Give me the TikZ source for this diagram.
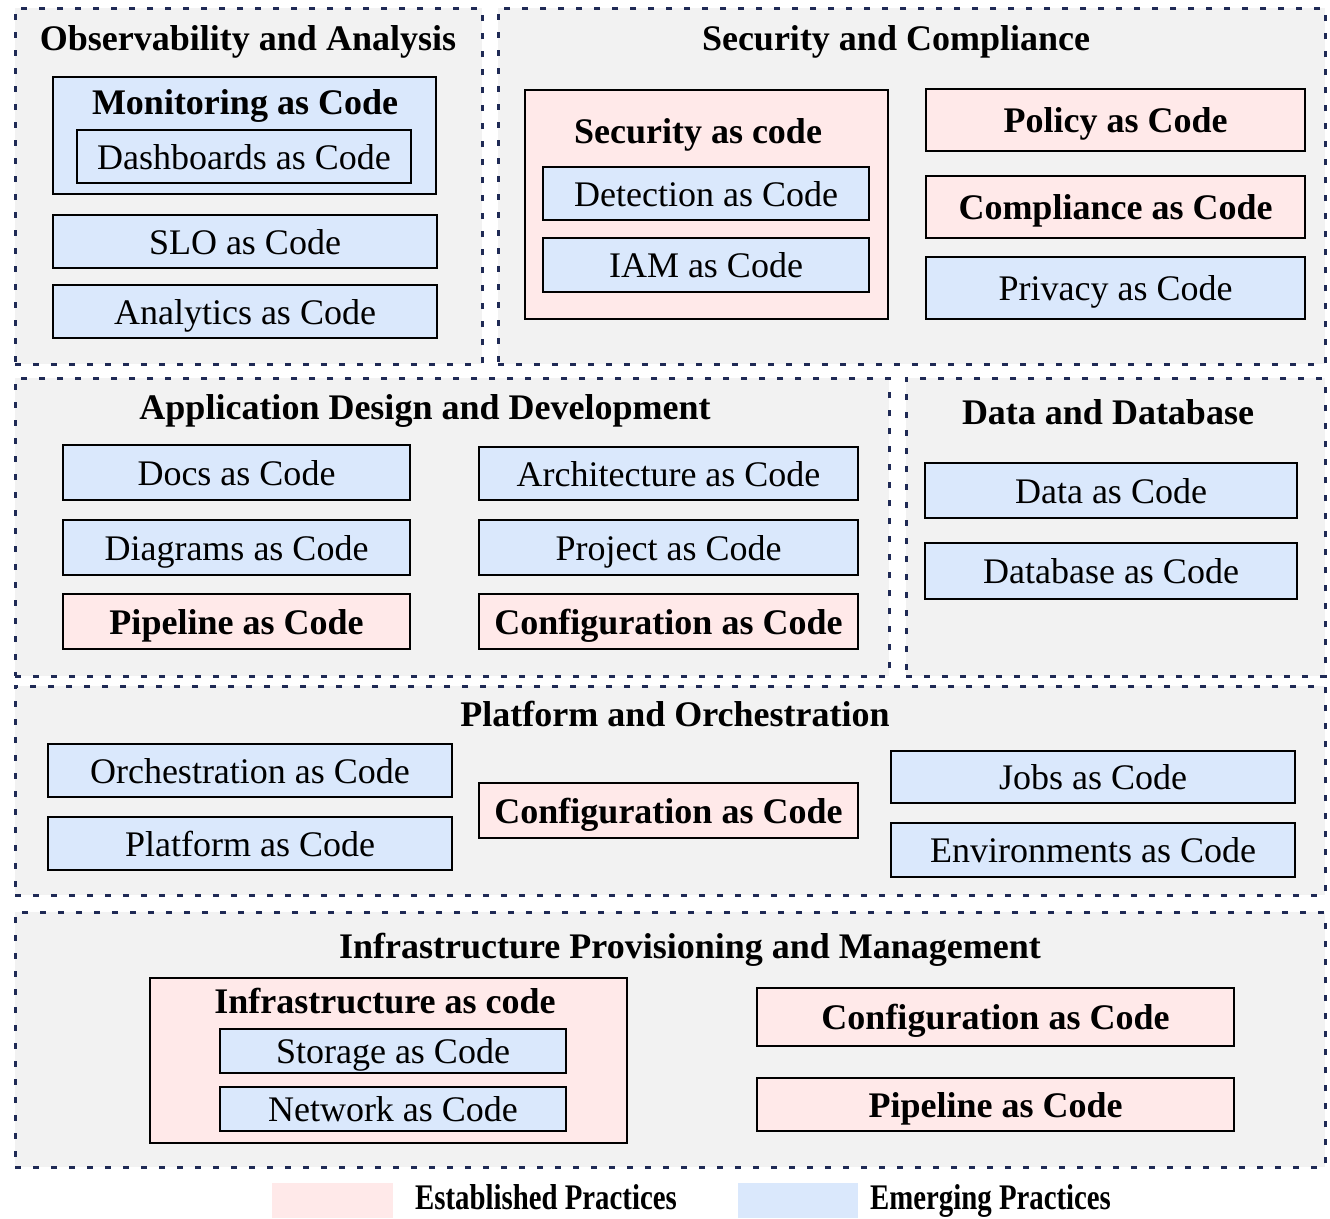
\documentclass[tikz,border=0pt]{standalone}
\usepackage{fontspec}
\setmainfont{Liberation Serif}
\usepackage{xcolor}
\usepackage{tikz}
\usetikzlibrary{positioning}

\definecolor{estpink}{HTML}{FFE9E9}
\definecolor{emgblue}{HTML}{DAE8FC}
\definecolor{groupgray}{HTML}{F2F2F2}
\definecolor{groupline}{HTML}{1F2A55}

\begin{document}
\begin{tikzpicture}[
  x=1pt, y=-1pt,
  group/.style={rectangle, draw=groupline, line width=3pt, dash pattern=on 6pt off 12pt, fill=groupgray, inner sep=0pt},
  grouptitle/.style={font=\fontsize{36}{40}\selectfont\bfseries, inner sep=0pt, text height=25pt, text depth=0pt},
  established/.style={rectangle, draw=black, line width=2.5pt, fill=estpink, inner sep=0pt, text height=25pt, text depth=0pt, font=\fontsize{36}{40}\selectfont\bfseries},
  emerging/.style={rectangle, draw=black, line width=2.5pt, fill=emgblue, inner sep=0pt, text height=25pt, text depth=0pt, font=\fontsize{36}{40}\selectfont},
  boxtitle/.style={font=\fontsize{36}{40}\selectfont\bfseries, inner sep=0pt, text height=25pt, text depth=0pt},
  legendtext/.style={font=\fontsize{36}{40}\selectfont\bfseries, inner sep=0pt, text height=25pt, text depth=0pt, anchor=west}
]
  \useasboundingbox (0,0) rectangle (1330,1218);

  % Groups (dashed panels)
  \node[group, minimum width=467, minimum height=356] (obs) at (248.5,186) {};
  \node[group, minimum width=827, minimum height=356] (sec) at (911.5,186) {};
  \node[group, minimum width=874, minimum height=298] (app) at (452,527) {};
  \node[group, minimum width=419, minimum height=298] (data) at (1115.5,527) {};
  \node[group, minimum width=1310, minimum height=209] (plat) at (670,790.5) {};
  \node[group, minimum width=1310, minimum height=255] (infra) at (670,1039.5) {};

  \node[grouptitle] (obst) at (248,38) {Observability and Analysis};
  \node[grouptitle] (sect) at (896,38) {Security and Compliance};
  \node[grouptitle] (appt) at (425,407) {Application Design and Development};
  \node[grouptitle] (datat) at (1108,412) {Data and Database};
  \node[grouptitle] (platt) at (675,714) {Platform and Orchestration};
  \node[grouptitle] (infrat) at (690,946) {Infrastructure Provisioning and Management};

  % Observability and Analysis
  \node[emerging, minimum width=383, minimum height=117] (mon) at (244.5,135.5) {};
  \node[boxtitle] (mont) at (245,102) {Monitoring as Code};
  \node[emerging, minimum width=334, minimum height=53] (dash) at (244,156.5) {Dashboards as Code};
  \node[emerging, minimum width=384, minimum height=53] (slo) at (245,241.5) {SLO as Code};
  \node[emerging, minimum width=384, minimum height=53] (ana) at (245,311.5) {Analytics as Code};

  % Security and Compliance
  \node[established, minimum width=363, minimum height=229] (secc) at (706.5,204.5) {};
  \node[boxtitle] (secct) at (698,131) {Security as code};
  \node[emerging, minimum width=326, minimum height=53] (det) at (706,193.5) {Detection as Code};
  \node[emerging, minimum width=326, minimum height=54] (iam) at (706,265) {IAM as Code};
  \node[established, minimum width=379, minimum height=62] (pol) at (1115.5,120) {Policy as Code};
  \node[established, minimum width=379, minimum height=62] (comp) at (1115.5,207) {Compliance as Code};
  \node[emerging, minimum width=379, minimum height=62] (priv) at (1115.5,288) {Privacy as Code};

  % Application Design and Development
  \node[emerging, minimum width=347, minimum height=55] (docs) at (236.5,472.5) {Docs as Code};
  \node[emerging, minimum width=347, minimum height=55] (diag) at (236.5,547.5) {Diagrams as Code};
  \node[established, minimum width=347, minimum height=55] (pipe1) at (236.5,621.5) {Pipeline as Code};
  \node[emerging, minimum width=379, minimum height=53] (arch) at (668.5,473.5) {Architecture as Code};
  \node[emerging, minimum width=379, minimum height=55] (proj) at (668.5,547.5) {Project as Code};
  \node[established, minimum width=379, minimum height=55] (conf1) at (668.5,621.5) {Configuration as Code};

  % Data and Database
  \node[emerging, minimum width=372, minimum height=55] (dac) at (1111,490.5) {Data as Code};
  \node[emerging, minimum width=372, minimum height=56] (dbc) at (1111,571) {Database as Code};

  % Platform and Orchestration
  \node[emerging, minimum width=404, minimum height=53] (orch) at (250,770.5) {Orchestration as Code};
  \node[emerging, minimum width=404, minimum height=53] (platc) at (250,843.5) {Platform as Code};
  \node[established, minimum width=379, minimum height=55] (conf2) at (668.5,810.5) {Configuration as Code};
  \node[emerging, minimum width=404, minimum height=52] (jobs) at (1093,777) {Jobs as Code};
  \node[emerging, minimum width=404, minimum height=54] (env) at (1093,850) {Environments as Code};

  % Infrastructure Provisioning and Management
  \node[established, minimum width=477, minimum height=165] (iac) at (388.5,1060.5) {};
  \node[boxtitle] (iact) at (385,1001) {Infrastructure as code};
  \node[emerging, minimum width=346, minimum height=44] (stor) at (393,1051) {Storage as Code};
  \node[emerging, minimum width=346, minimum height=44] (net) at (393,1109) {Network as Code};
  \node[established, minimum width=477, minimum height=58] (conf3) at (995.5,1017) {Configuration as Code};
  \node[established, minimum width=477, minimum height=53] (pipe2) at (995.5,1104.5) {Pipeline as Code};

  % Legend
  \node[rectangle, fill=estpink, minimum width=121, minimum height=35, inner sep=0pt] (legest) at (332.5,1200.5) {};
  \node[legendtext] (legestt) at (415,1197) {\scalebox{0.8}[1]{Established Practices}};
  \node[rectangle, fill=emgblue, minimum width=120, minimum height=35, inner sep=0pt] (legemg) at (798,1200.5) {};
  \node[legendtext] (legemgt) at (870,1197) {\scalebox{0.8}[1]{Emerging Practices}};
\end{tikzpicture}
\end{document}
